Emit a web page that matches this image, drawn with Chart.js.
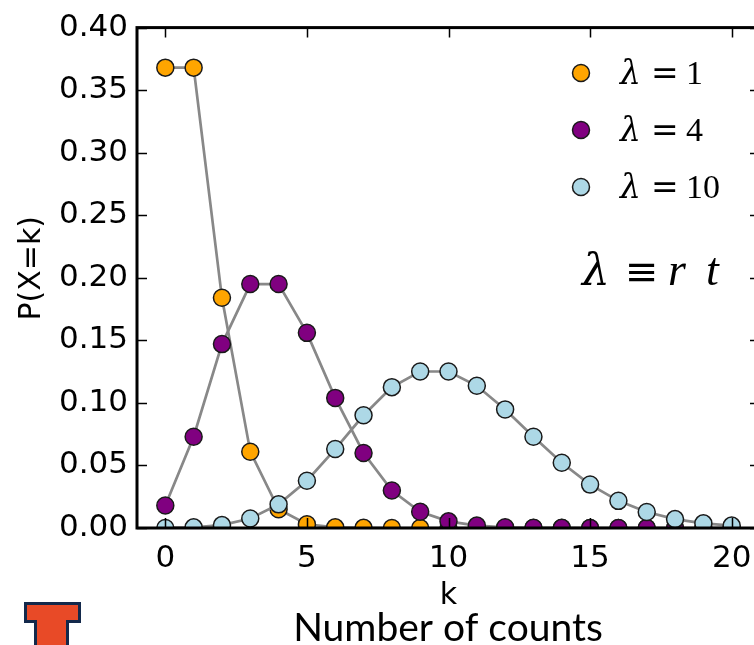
<!DOCTYPE html>
<html>
<head>
<meta charset="utf-8">
<script src="https://cdn.jsdelivr.net/npm/chart.js@4.4.1/dist/chart.umd.min.js"></script>
<style>
    html, body { margin: 0; padding: 0; background: #fff; overflow: hidden; }
    #wrap { position: relative; width: 754px; height: 645px; overflow: hidden; }
</style>
</head>
<body>
<div id="wrap"><canvas id="poissonChart" width="780" height="645"></canvas></div>
<script>
// k = number of counts
const kValues = [0, 1, 2, 3, 4, 5, 6, 7, 8, 9, 10, 11, 12, 13, 14, 15, 16, 17, 18, 19, 20];

// P(X=k) for each lambda
const pLambda1  = [0.368, 0.368, 0.184, 0.061, 0.015, 0.003, 0.0005, 0.0001, 0, 0, 0, 0, 0, 0, 0, 0, 0, 0, 0, 0, 0];
const pLambda4  = [0.018, 0.073, 0.147, 0.195, 0.195, 0.156, 0.104, 0.060, 0.030, 0.013, 0.0053, 0.0019, 0.0006, 0.0002, 0.0001, 0, 0, 0, 0, 0, 0];
const pLambda10 = [0.00005, 0.0005, 0.0023, 0.0076, 0.0189, 0.0378, 0.0631, 0.0901, 0.1126, 0.1251, 0.1251, 0.1137, 0.0948, 0.0729, 0.0521, 0.0347, 0.0217, 0.0128, 0.0071, 0.0037, 0.0019];

const lambdaLabels = ['1', '4', '10'];
const lambdaColors = ['#ffa500', '#800080', '#add8e6'];

const xTicks = [0, 5, 10, 15, 20];
const yTicks = [0, 0.05, 0.10, 0.15, 0.20, 0.25, 0.30, 0.35, 0.40];

const seriesValues = [pLambda1, pLambda4, pLambda10];

const datasets = seriesValues.map((vals, i) => ({
    label: 'λ=' + lambdaLabels[i],
    data: kValues.map((k, j) => ({ x: k, y: vals[j] })),
    borderColor: '#888888',
    borderWidth: 2.7,
    pointBackgroundColor: lambdaColors[i],
    pointBorderColor: '#1a1a1a',
    pointBorderWidth: 1.5,
    pointRadius: 8.5,
    pointHoverRadius: 8.5,
    tension: 0,
    clip: 0,
    order: 3 - i   // lambda=10 on top
}));

// spines and inward ticks, drawn over the markers
const frameTicks = {
    id: 'frameTicks',
    afterDatasetsDraw(chart) {
        const { ctx, chartArea: a, scales: { x, y } } = chart;
        ctx.save();
        ctx.strokeStyle = '#000';
        ctx.lineWidth = 1.5;
        ctx.beginPath();
        xTicks.forEach(v => {
            const px = Math.round(x.getPixelForValue(v)) + 0.5;
            ctx.moveTo(px, a.bottom); ctx.lineTo(px, a.bottom - 10);
            ctx.moveTo(px, a.top); ctx.lineTo(px, a.top + 10);
        });
        yTicks.forEach(v => {
            const py = Math.round(y.getPixelForValue(v)) + 0.5;
            ctx.moveTo(a.left, py); ctx.lineTo(a.left + 10, py);
            ctx.moveTo(a.right, py); ctx.lineTo(a.right - 10, py);
        });
        ctx.stroke();
        ctx.lineWidth = 3;
        ctx.strokeRect(a.left, a.top, a.right - a.left, a.bottom - a.top);
        ctx.restore();
    }
};

// legend inside plot + annotation + caption + logo
const extras = {
    id: 'extras',
    afterDraw(chart) {
        const ctx = chart.ctx;
        ctx.save();
        // legend
        const legendY = [73, 130, 187];
        lambdaLabels.forEach((lab, i) => {
            ctx.beginPath();
            ctx.arc(581, legendY[i], 8.5, 0, Math.PI * 2);
            ctx.fillStyle = lambdaColors[i];
            ctx.fill();
            ctx.lineWidth = 1.5;
            ctx.strokeStyle = '#1a1a1a';
            ctx.stroke();
            ctx.fillStyle = '#000';
            ctx.textBaseline = 'alphabetic';
            ctx.textAlign = 'left';
            const base = legendY[i] + 11;
            ctx.font = 'italic 33px "DejaVu Serif"';
            ctx.fillText('λ', 620, base);
            ctx.font = '33px "DejaVu Serif"';
            ctx.fillText('=', 651, base);
            ctx.font = '34px "Liberation Serif"';
            ctx.fillText(lab, 686, base);
        });
        // lambda = r t
        ctx.font = 'italic 44px "DejaVu Serif"';
        ctx.fillText('λ', 582, 285);
        ctx.font = '40px "DejaVu Serif"';
        ctx.fillText('≡', 625, 285);
        ctx.font = 'italic 46px "Liberation Serif"';
        ctx.fillText('r', 668, 285);
        ctx.fillText('t', 706, 285);
        // caption
        ctx.font = '39px Lato';
        ctx.textAlign = 'center';
        ctx.fillText('Number of counts', 448, 641);
        // logo
        ctx.fillStyle = '#13294b';
        ctx.beginPath();
        ctx.moveTo(24, 602); ctx.lineTo(81, 602); ctx.lineTo(81, 623); ctx.lineTo(69, 623);
        ctx.lineTo(69, 650); ctx.lineTo(34, 650); ctx.lineTo(34, 623); ctx.lineTo(24, 623);
        ctx.closePath();
        ctx.fill();
        ctx.fillStyle = '#e84a27';
        ctx.beginPath();
        ctx.moveTo(27, 605); ctx.lineTo(78, 605); ctx.lineTo(78, 620); ctx.lineTo(66, 620);
        ctx.lineTo(66, 650); ctx.lineTo(37, 650); ctx.lineTo(37, 620); ctx.lineTo(27, 620);
        ctx.closePath();
        ctx.fill();
        ctx.restore();
    }
};

const ctx = document.getElementById('poissonChart').getContext('2d');
new Chart(ctx, {
    type: 'line',
    data: { datasets },
    options: {
        responsive: false,
        animation: false,
        events: [],
        layout: { padding: { left: 0, top: 22, right: 20, bottom: 0 } },
        plugins: { legend: { display: false }, tooltip: { enabled: false } },
        scales: {
            x: {
                type: 'linear',
                min: -1, max: 21,
                afterBuildTicks: s => { s.ticks = xTicks.map(v => ({ value: v })); },
                afterFit: s => { s.height = 117; },
                grid: { display: false, drawTicks: false },
                border: { display: false },
                ticks: { color: '#000', padding: 12, font: { family: 'DejaVu Sans', size: 31 }, maxRotation: 0 },
                title: { display: true, text: 'k', color: '#000', font: { family: 'DejaVu Sans', size: 30 }, padding: { top: 0, bottom: 31 } }
            },
            y: {
                min: 0, max: 0.4,
                afterBuildTicks: s => { s.ticks = yTicks.map(v => ({ value: v })); },
                afterFit: s => { s.width = 137; },
                grid: { display: false, drawTicks: false },
                border: { display: false },
                ticks: { color: '#000', padding: 9, font: { family: 'DejaVu Sans', size: 31 }, callback: v => Number(v).toFixed(2) },
                title: { display: true, text: '  P(X=k)', color: '#000', font: { family: 'DejaVu Sans', size: 30 }, padding: { top: 14, bottom: 0 } }
            }
        }
    },
    plugins: [frameTicks, extras]
});
</script>
</body>
</html>
